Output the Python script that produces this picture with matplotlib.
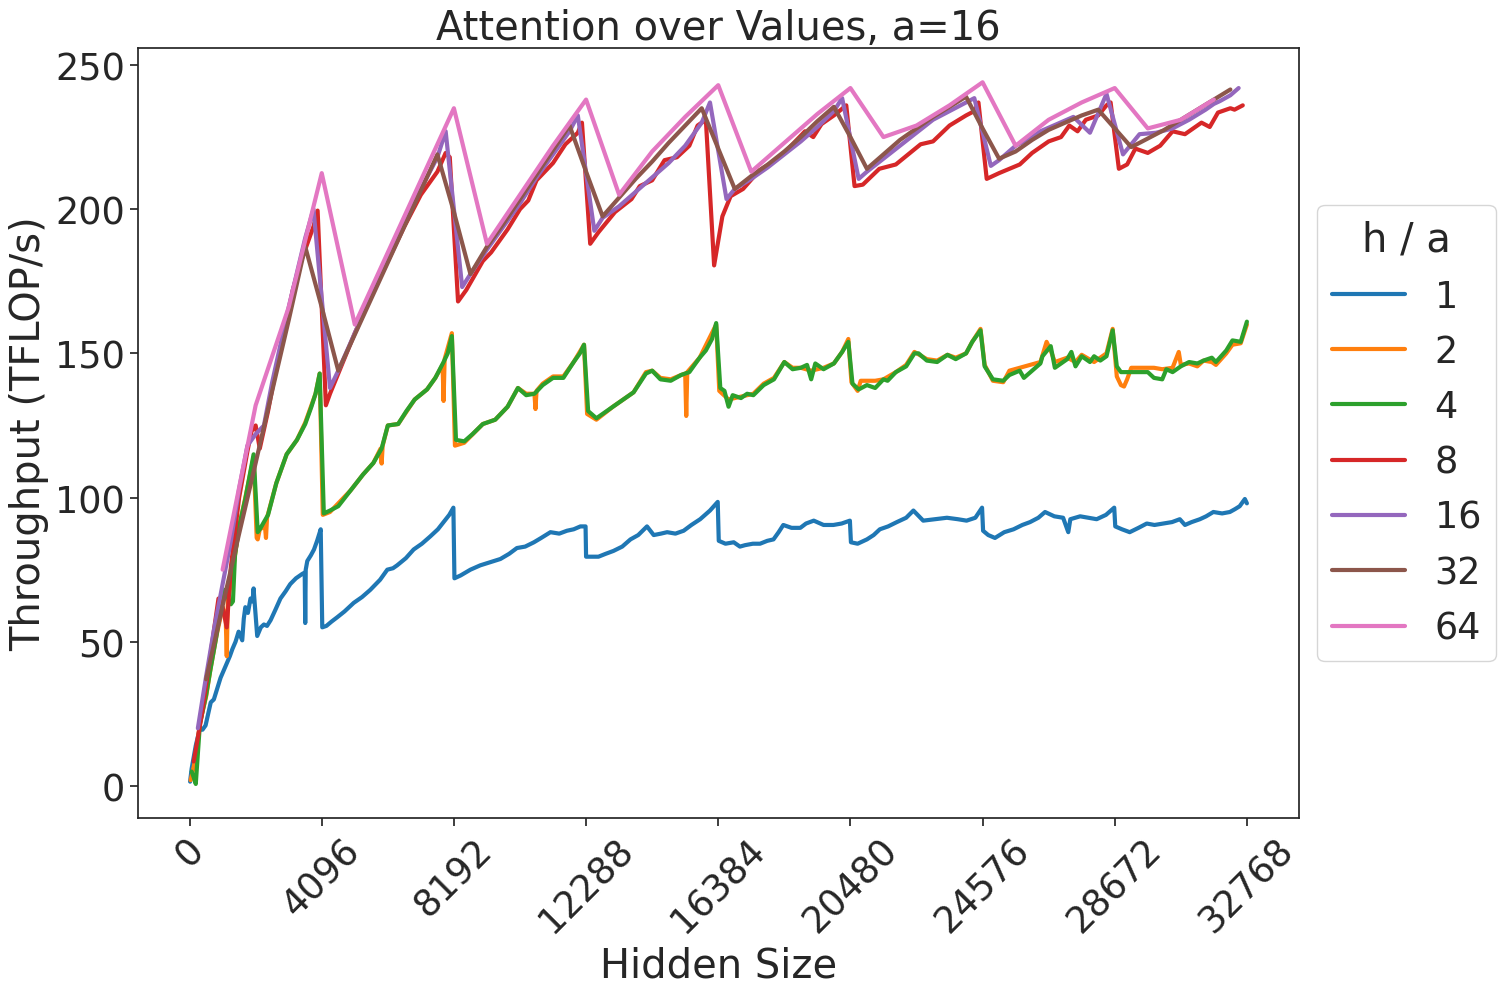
import matplotlib
matplotlib.use("Agg")
import matplotlib.pyplot as plt
import seaborn as sns

# ---------------- data ----------------
labels = ["1", "2", "4", "8", "16", "32", "64"]

x_1 = [16, 64, 128, 192, 256, 320, 400, 496, 576, 656, 752, 864, 960, 1056, 1168, 1248, 1328, 1424, 1520, 1632, 1680, 1728, 1808, 1888, 1952, 1984, 2000, 2096, 2208, 2304, 2400, 2512, 2656, 2816, 2976, 3120, 3296, 3488, 3568, 3584, 3600, 3648, 3760, 3856, 3952, 4064, 4112, 4240, 4400, 4576, 4800, 5088, 5344, 5600, 5904, 6128, 6304, 6432, 6704, 6944, 7200, 7456, 7696, 7872, 8048, 8176, 8208, 8400, 8704, 9008, 9296, 9632, 9904, 10144, 10400, 10672, 10896, 11184, 11456, 11696, 11904, 12112, 12272, 12288, 12672, 12896, 13136, 13408, 13664, 13904, 14176, 14384, 14608, 14800, 15056, 15312, 15552, 15824, 16128, 16368, 16400, 16608, 16864, 17056, 17216, 17456, 17680, 17904, 18096, 18256, 18400, 18656, 18928, 19104, 19344, 19648, 19952, 20208, 20464, 20496, 20704, 20992, 21200, 21392, 21648, 21920, 22208, 22432, 22736, 23104, 23472, 23808, 24080, 24352, 24560, 24592, 24752, 24960, 25248, 25536, 25808, 26048, 26304, 26512, 26800, 27072, 27232, 27296, 27600, 27856, 28112, 28400, 28656, 28688, 28896, 29136, 29408, 29664, 29904, 30176, 30448, 30688, 30848, 31056, 31312, 31504, 31728, 32000, 32240, 32400, 32544, 32704, 32768]
y_1 = [1.5, 6, 10, 14, 17, 20, 19.5, 21, 25, 29, 30, 34, 37.5, 40, 43, 45, 47.5, 50, 53.5, 50.5, 58, 62, 60, 65, 64, 68.5, 66, 52, 55, 56, 55.5, 57.5, 61, 65, 67.5, 70, 72, 73.5, 74, 56.5, 75, 78, 80, 82, 85, 89, 55, 55.5, 57, 58.5, 60.5, 63.5, 65.5, 68, 71.5, 75, 75.5, 76.5, 79, 82, 84, 86.5, 89, 91.5, 94, 96.5, 72, 73, 75, 76.5, 77.5, 78.7, 80.5, 82.5, 83, 84.5, 86, 88, 87.5, 88.5, 89, 90, 90, 79.5, 79.5, 80.5, 81.5, 83, 85.5, 87, 90, 87, 87.5, 88, 87.5, 88.5, 90.5, 92.5, 95.5, 98.5, 85, 84, 84.5, 83, 83.5, 84, 84, 85, 85.5, 88, 90.5, 89.5, 89.5, 91, 92, 90.5, 90.5, 91, 92, 84.5, 84, 85.5, 87, 89, 90, 91.5, 93, 95.5, 92, 92.5, 93, 92.5, 92, 93, 96.5, 88.5, 87, 86, 88, 89, 90.5, 91.5, 93, 95, 93.5, 93, 88, 92.5, 93.5, 93, 92.5, 94, 96.5, 90, 89, 88, 89.5, 91, 90.5, 91, 91.5, 92.5, 90.5, 91.5, 92.5, 93.5, 95, 94.5, 95, 96, 97, 99.5, 98]

x_2 = [32, 96, 192, 320, 512, 640, 832, 1024, 1120, 1152, 1184, 1344, 1536, 1728, 1984, 2080, 2112, 2176, 2336, 2368, 2400, 2688, 3008, 3328, 3584, 3904, 4032, 4128, 4352, 4992, 5376, 5696, 5920, 5952, 5984, 6144, 6464, 6976, 7360, 7616, 7840, 7872, 7904, 8128, 8224, 8512, 9088, 9472, 9856, 10176, 10432, 10688, 10720, 10752, 10944, 11264, 11584, 11904, 12224, 12320, 12608, 13120, 13440, 13760, 14144, 14336, 14592, 14912, 15232, 15360, 15392, 15424, 15808, 16320, 16416, 16704, 17088, 17472, 17792, 18112, 18432, 18688, 18944, 19264, 19648, 19968, 20224, 20416, 20512, 20704, 20800, 21248, 21504, 21888, 22208, 22464, 22848, 23168, 23488, 23744, 24064, 24256, 24512, 24640, 24896, 25216, 25408, 25728, 26368, 26560, 26688, 26816, 27200, 27456, 27648, 28032, 28416, 28608, 28736, 28864, 28960, 29056, 29184, 29696, 29888, 30144, 30464, 30656, 30720, 30976, 31232, 31424, 31680, 31808, 32128, 32320, 32576, 32768]
y_2 = [2, 5, 10, 22, 31, 40, 52, 62, 58, 45, 64, 75, 90, 100, 114, 86, 85.5, 89, 90, 86, 93, 105, 115, 120, 126, 136, 143, 94, 95, 102.5, 108, 112, 117, 111.8, 118, 125, 125.5, 134, 137.5, 141.5, 146, 133.5, 148, 157, 118, 119, 125.5, 127, 131.5, 138, 136, 136, 130.7, 137, 139.5, 142, 142, 147, 153, 129, 127, 131.5, 134, 136.5, 143.5, 144, 141.5, 141, 142.5, 143, 128.3, 143.5, 148.5, 160, 137, 134, 135, 136, 139.5, 141.5, 147, 145, 145, 144, 145, 146.5, 150.5, 155, 140, 137, 140.5, 140.5, 141, 143.5, 146, 150.5, 148, 147.5, 149.5, 148.5, 150, 154, 158.5, 146, 140.5, 140, 144, 145, 147, 154, 151, 147, 148.5, 147, 149.5, 147, 150, 158.5, 142, 139, 138.5, 141, 145, 145, 145, 144.5, 145, 150.5, 146, 146.5, 145.5, 147.5, 147, 146, 150, 153, 153.5, 160]

x_4 = [64, 128, 192, 320, 512, 640, 832, 1024, 1088, 1280, 1344, 1408, 1536, 1728, 1984, 2112, 2176, 2432, 2688, 3008, 3328, 3584, 3776, 3904, 4032, 4160, 4352, 4608, 4992, 5376, 5696, 5952, 6144, 6464, 6720, 6976, 7360, 7616, 7872, 8000, 8128, 8256, 8512, 8768, 9088, 9344, 9472, 9856, 10176, 10432, 10688, 10944, 11264, 11584, 11904, 12096, 12224, 12352, 12608, 12864, 13120, 13440, 13760, 14144, 14336, 14592, 14912, 15232, 15488, 15808, 16000, 16192, 16320, 16448, 16576, 16704, 16832, 17088, 17280, 17472, 17792, 18112, 18432, 18688, 18944, 19136, 19264, 19392, 19648, 19968, 20224, 20416, 20544, 20736, 20992, 21248, 21504, 21632, 21888, 22208, 22464, 22592, 22848, 23168, 23488, 23744, 24064, 24256, 24512, 24640, 24896, 25216, 25408, 25728, 25856, 26368, 26432, 26688, 26816, 27200, 27328, 27456, 27648, 27904, 28032, 28224, 28416, 28608, 28736, 28864, 29696, 29888, 30144, 30272, 30464, 30720, 30976, 31232, 31424, 31680, 31808, 32128, 32320, 32576, 32768]
y_4 = [5, 3, 0.7, 21.5, 31.5, 40, 52, 66, 68, 63, 64, 80, 90, 99.5, 115, 88, 89, 94, 105, 115, 120, 125.5, 131.5, 136, 143, 94.5, 95.5, 97, 102.5, 108, 112, 117, 125, 125.5, 130, 134, 137.5, 141.5, 147, 150, 156, 120, 119.5, 122, 125.5, 126.5, 127, 131.5, 138, 135.5, 136, 139, 141.5, 141.5, 147, 150, 153, 130, 127.5, 129.5, 131.5, 134, 136.5, 143, 144, 141, 140.5, 142.5, 143.5, 148.5, 151, 155, 160.5, 138, 137, 131.5, 135.5, 134.5, 136, 135.5, 139, 141, 147, 144.5, 145, 146, 141, 146.5, 144.5, 146.5, 150.5, 154, 139.5, 137.5, 139, 138, 141, 140.5, 143.5, 145.5, 150, 150, 147.5, 147, 149.5, 148, 150, 154, 158, 145.5, 141, 140.5, 142.5, 144, 141.5, 146.5, 149, 152.5, 145, 148, 150.5, 145.5, 149, 147, 149, 147.5, 149, 158, 145.5, 143.5, 143.5, 141.5, 141, 144.5, 143.5, 145.5, 147, 146.5, 147.5, 148.5, 147, 151, 154.5, 154, 161]

x_8 = [128, 384, 640, 896, 1024, 1152, 1280, 1536, 1792, 1920, 2048, 2176, 2432, 2688, 2944, 3200, 3456, 3712, 3840, 3968, 4224, 4352, 4608, 5120, 5632, 6144, 6656, 7168, 7680, 7936, 8064, 8320, 8576, 9088, 9344, 9856, 10240, 10496, 10752, 11264, 11648, 12032, 12160, 12416, 12672, 13184, 13696, 13952, 14336, 14720, 15104, 15488, 15744, 16000, 16256, 16512, 16768, 17152, 17664, 18176, 18560, 19072, 19328, 19584, 19968, 20352, 20608, 20864, 21376, 21888, 22272, 22656, 23040, 23552, 24064, 24320, 24448, 24704, 25088, 25728, 26112, 26624, 27008, 27264, 27520, 27776, 28160, 28416, 28544, 28800, 29056, 29312, 29696, 30080, 30464, 30848, 31360, 31616, 31872, 32256, 32384, 32640]
y_8 = [8.5, 25, 45, 65, 62, 55, 76, 100, 116, 123, 125, 117, 130, 145, 158, 172, 182, 190, 194, 199.5, 132, 136, 143, 157, 170, 182, 194, 205, 213, 219.5, 218, 168, 172, 182, 185, 193, 200, 203, 210, 216, 222.5, 226.5, 230, 188, 192, 199, 203.5, 208, 210, 217, 218, 222, 229, 231, 180.5, 197.5, 204.5, 207, 213.5, 217, 221, 227, 225, 229.5, 232.5, 236, 208, 208.5, 214, 215.5, 219, 222.5, 223.5, 229, 232.5, 234, 237, 210.5, 212.5, 215.5, 219.5, 223.5, 225, 229, 227, 231, 232.5, 236, 237, 214, 215.5, 221, 219.5, 222, 227, 226, 230, 228.5, 233.5, 235, 234.5, 236]

x_16 = [256, 512, 768, 1024, 1280, 1536, 1792, 2048, 2304, 2560, 2816, 3072, 3328, 3584, 3840, 4352, 4608, 5120, 5632, 6144, 6656, 7168, 7680, 7936, 8448, 8704, 9216, 9728, 10240, 10752, 11264, 11776, 12032, 12544, 12800, 13312, 13824, 14336, 14848, 15360, 15872, 16128, 16640, 16896, 17408, 17920, 18432, 18944, 19456, 19968, 20224, 20736, 20992, 21504, 22016, 22528, 23040, 23552, 24064, 24320, 24832, 25088, 25600, 26112, 26368, 26880, 27392, 27904, 28416, 28928, 29440, 29952, 30464, 30976, 31488, 31744, 31936, 32256, 32512]
y_16 = [20, 38, 55, 70, 85, 103, 118, 122, 125, 140, 153, 166, 178, 190, 200, 138, 144, 157, 170, 183, 195, 207, 218, 227, 173, 177.5, 186, 194, 202, 211, 219, 227, 232.5, 192.5, 197, 201, 206, 211, 216, 222, 230, 237, 203.5, 207, 210.5, 214.5, 219, 223.5, 228.5, 234, 238.5, 210.5, 213, 217.5, 222, 226.5, 231, 234, 237, 238.5, 215, 217, 222, 225, 227, 229.5, 232, 226.5, 240, 219, 226, 226.5, 228, 231, 234.5, 236.5, 237.5, 239.5, 242]

x_32 = [512, 1024, 1536, 2048, 2560, 3072, 3584, 4096, 4608, 5120, 5632, 6144, 6656, 7168, 7680, 8192, 8704, 9216, 9728, 10240, 10752, 11264, 11776, 12288, 12800, 13312, 13824, 14336, 14848, 15360, 15872, 16384, 16896, 17408, 17920, 18432, 18944, 19456, 19968, 20480, 20992, 21504, 22016, 22528, 23040, 23552, 24064, 24576, 25088, 25600, 26112, 26624, 27136, 27648, 28160, 28672, 29184, 29696, 30208, 30720, 31232, 31744, 32256]
y_32 = [37, 62.5, 87.5, 112, 137, 161.5, 187, 166, 144, 156.5, 169, 181.5, 194, 206.5, 219, 199, 177.5, 187, 195, 203.5, 212, 220.5, 229, 213, 197.5, 204, 210.5, 216.5, 223, 229, 235, 221, 207, 211.5, 215.5, 220, 225, 230.5, 235.5, 225, 214, 219, 224, 228, 232, 235.5, 239, 228, 217.5, 220, 224, 227.5, 230, 232.5, 234.5, 228, 221.5, 224.5, 227.5, 231, 234.5, 238, 241.5]

x_64 = [1024, 2048, 3072, 4096, 5120, 6144, 7168, 8192, 9216, 10240, 11264, 12288, 13312, 14336, 15360, 16384, 17408, 18432, 19456, 20480, 21504, 22528, 23552, 24576, 25600, 26624, 27648, 28672, 29696, 30720, 31744]
y_64 = [75, 132, 166, 212.5, 160, 185, 210, 235, 188, 205, 222, 238, 205, 220, 232, 243, 213, 223, 233, 242, 225, 229, 236, 244, 222, 231, 237, 242, 228, 231, 238]

xticks = [0, 4096, 8192, 12288, 16384, 20480, 24576, 28672, 32768]

series = [(x_1, y_1), (x_2, y_2), (x_4, y_4), (x_8, y_8),
          (x_16, y_16), (x_32, y_32), (x_64, y_64)]

# ---------------- style ----------------
sns.set_theme(style="ticks", font_scale=2.4)
plt.rcParams['font.family'] = ['DejaVu Sans']

fig = plt.figure(figsize=(15.06, 9.95), dpi=100)
ax = fig.add_axes([0.0916, 0.1769, 0.7709, 0.7739])

colors = sns.color_palette("tab10", len(series))
for (xs, ys), lab, c in zip(series, labels, colors):
    ax.plot(xs, ys, color=c, lw=3, label=lab)

ax.set_xticks(xticks)
ax.set_xticklabels([str(t) for t in xticks], rotation=45)
ax.set_xlim(-1600, 34380)
ax.set_ylim(-11.1, 255.9)
ax.set_yticks([0, 50, 100, 150, 200, 250])
ax.set_xlabel("Hidden Size")
ax.set_ylabel("Throughput (TFLOP/s)")
ax.set_title("Attention over Values, a=16")

leg = ax.legend(title="h / a", loc="center left", bbox_to_anchor=(1.0, 0.5))

fig.savefig("out.png", dpi=100)
